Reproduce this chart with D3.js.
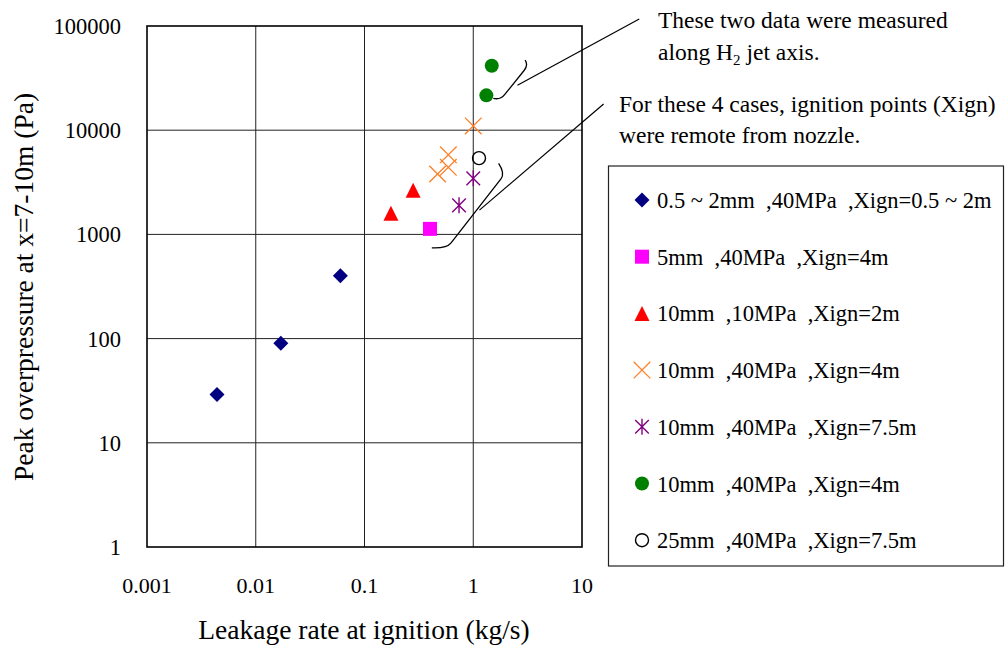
<!DOCTYPE html>
<html>
<head>
<meta charset="utf-8">
<script src="https://d3js.org/d3.v7.min.js"></script>
<style>
  body { margin: 0; background: #fff; }
  svg text { font-family: "Liberation Serif", "Times New Roman", serif; fill: #000; white-space: pre; }
</style>
</head>
<body>
<script>
// series labels (legend order)
var seriesNames = [
  "0.5 ~ 2mm  ,40MPa  ,Xign=0.5 ~ 2m",
  "5mm  ,40MPa  ,Xign=4m",
  "10mm  ,10MPa  ,Xign=2m",
  "10mm  ,40MPa  ,Xign=4m",
  "10mm  ,40MPa  ,Xign=7.5m",
  "10mm  ,40MPa  ,Xign=4m",
  "25mm  ,40MPa  ,Xign=7.5m"
];

// leakage rate (kg/s) / peak overpressure (Pa) per series
var diamondX = [0.0044, 0.017, 0.06];
var diamondY = [29, 90, 400];
var squareX = [0.40];
var squareY = [1130];
var triX = [0.175, 0.28];
var triY = [1600, 2650];
var crossX = [0.47, 0.59, 0.59, 1.0];
var crossY = [3800, 4400, 5800, 11000];
var starX = [0.74, 1.0];
var starY = [1900, 3450];
var greenX = [1.32, 1.48];
var greenY = [21600, 41500];
var openX = [1.13];
var openY = [5400];

var xTicks = [0.001, 0.01, 0.1, 1, 10];
var yTicks = [1, 10, 100, 1000, 10000, 100000];
var xTickLabels = ["0.001", "0.01", "0.1", "1", "10"];
var yTickLabels = ["1", "10", "100", "1000", "10000", "100000"];

var width = 1007, height = 649;
var plot = {left: 147, right: 582, top: 26, bottom: 547};

var svg = d3.select("body").append("svg")
  .attr("width", width)
  .attr("height", height);

var x = d3.scaleLog().domain([0.001, 10]).range([plot.left, plot.right]);
var y = d3.scaleLog().domain([1, 100000]).range([plot.bottom, plot.top]);

// grid
svg.append("g").selectAll("line.v")
  .data(xTicks.slice(1, -1))
  .enter().append("line")
    .attr("x1", function(d) { return x(d); })
    .attr("x2", function(d) { return x(d); })
    .attr("y1", plot.top).attr("y2", plot.bottom)
    .attr("stroke", "#222").attr("stroke-width", 1);

svg.append("g").selectAll("line.h")
  .data(yTicks.slice(1, -1))
  .enter().append("line")
    .attr("x1", plot.left).attr("x2", plot.right)
    .attr("y1", function(d) { return y(d); })
    .attr("y2", function(d) { return y(d); })
    .attr("stroke", "#222").attr("stroke-width", 1);

svg.append("rect")
  .attr("x", plot.left).attr("y", plot.top)
  .attr("width", plot.right - plot.left)
  .attr("height", plot.bottom - plot.top)
  .attr("fill", "none").attr("stroke", "#000").attr("stroke-width", 1.6);

// tick labels
svg.append("g").selectAll("text")
  .data(yTicks)
  .enter().append("text")
    .attr("x", 121)
    .attr("y", function(d) { return y(d) + 8; })
    .attr("text-anchor", "end")
    .style("font-size", "22.5px")
    .text(function(d, i) { return yTickLabels[i]; });

svg.append("g").selectAll("text")
  .data(xTicks)
  .enter().append("text")
    .attr("x", function(d) { return x(d); })
    .attr("y", 593)
    .attr("text-anchor", "middle")
    .style("font-size", "22px")
    .text(function(d, i) { return xTickLabels[i]; });

// axis titles
svg.append("text")
  .attr("x", 364).attr("y", 639)
  .attr("text-anchor", "middle")
  .style("font-size", "27.5px")
  .text("Leakage rate at ignition (kg/s)");

svg.append("text")
  .attr("transform", "translate(33,287) rotate(-90)")
  .attr("text-anchor", "middle")
  .style("font-size", "27.5px")
  .text("Peak overpressure at x=7-10m (Pa)");

// marker shapes, centered on their bounding box
function diamond(h) { return "M0," + (-h) + "L" + h + ",0L0," + h + "L" + (-h) + ",0Z"; }
function square(h) { return "M" + (-h) + "," + (-h) + "H" + h + "V" + h + "H" + (-h) + "Z"; }
function triangle(h) { return "M0," + (-h) + "L" + h + "," + h + "L" + (-h) + "," + h + "Z"; }
function cross(h) { return "M" + (-h) + "," + (-h) + "L" + h + "," + h + "M" + h + "," + (-h) + "L" + (-h) + "," + h; }
function star(h) { return cross(h * 0.85) + "M0," + (-h) + "V" + h; }

var seriesStyle = [
  {xs: diamondX, ys: diamondY, path: diamond(7.5), fill: "#000080", stroke: "none", sw: 0},
  {xs: squareX, ys: squareY, path: square(7), fill: "#ff00ff", stroke: "none", sw: 0},
  {xs: triX, ys: triY, path: triangle(7.5), fill: "#ff0000", stroke: "none", sw: 0},
  {xs: crossX, ys: crossY, path: cross(8.3), fill: "none", stroke: "#ff7f27", sw: 1.3},
  {xs: starX, ys: starY, path: star(8), fill: "none", stroke: "#800080", sw: 1.4},
  {xs: greenX, ys: greenY, circle: 7, fill: "#008000", stroke: "none", sw: 0},
  {xs: openX, ys: openY, circle: 6.5, fill: "none", stroke: "#000", sw: 1.4}
];

function drawMarker(g, s) {
  if (s.circle) {
    g.append("circle").attr("r", s.circle)
      .attr("fill", s.fill).attr("stroke", s.stroke).attr("stroke-width", s.sw);
  } else {
    g.append("path").attr("d", s.path)
      .attr("fill", s.fill).attr("stroke", s.stroke).attr("stroke-width", s.sw);
  }
}

var points = svg.append("g");
seriesStyle.forEach(function(s) {
  s.xs.forEach(function(v, i) {
    var g = points.append("g")
      .attr("transform", "translate(" + x(v) + "," + y(s.ys[i]) + ")");
    drawMarker(g, s);
  });
});

// brace + leader annotations (anchored in data units)
var braceTop = [[3.0, 47150], [3.22, 42220], [1.77, 19460], [1.53, 20220]];
var leaderTop = [[2.55, 27000], [33.6, 116700]];
var braceLow = [[1.71, 4800], [1.97, 3850], [0.571, 733], [0.416, 743]];
var leaderLow = [[1.14, 1710], [15.8, 17820]];

function bracePath(p) {
  var a = p.map(function(d) { return [x(d[0]), y(d[1])]; });
  var dx = a[2][0] - a[1][0], dy = a[2][1] - a[1][1];
  var len = Math.sqrt(dx * dx + dy * dy);
  var ux = dx / len, uy = dy / len;
  var s1 = [a[1][0] + ux * 7, a[1][1] + uy * 7];
  var s2 = [a[2][0] - ux * 7, a[2][1] - uy * 7];
  return "M" + a[0] + "Q" + a[1] + " " + s1 + "L" + s2 + "Q" + a[2] + " " + a[3];
}

svg.append("path").attr("d", bracePath(braceTop))
  .attr("fill", "none").attr("stroke", "#000").attr("stroke-width", 1.3);
svg.append("path").attr("d", bracePath(braceLow))
  .attr("fill", "none").attr("stroke", "#000").attr("stroke-width", 1.3);

[leaderTop, leaderLow].forEach(function(l) {
  svg.append("line")
    .attr("x1", x(l[0][0])).attr("y1", y(l[0][1]))
    .attr("x2", x(l[1][0])).attr("y2", y(l[1][1]))
    .attr("stroke", "#000").attr("stroke-width", 1.2);
});

svg.append("text").attr("x", 658).attr("y", 28).style("font-size", "23.5px")
  .text("These two data were measured");
var t2 = svg.append("text").attr("x", 658).attr("y", 60).style("font-size", "23.5px");
t2.append("tspan").text("along H");
t2.append("tspan").attr("dy", 5).style("font-size", "15px").text("2");
t2.append("tspan").attr("dy", -5).text(" jet axis.");

svg.append("text").attr("x", 619).attr("y", 112).style("font-size", "23.5px")
  .text("For these 4 cases, ignition points (Xign)");
svg.append("text").attr("x", 619).attr("y", 143).style("font-size", "23.5px")
  .text("were remote from nozzle.");

// legend
var legend = svg.append("g");
legend.append("rect")
  .attr("x", 608.5).attr("y", 166)
  .attr("width", 395).attr("height", 400)
  .attr("fill", "#fff").attr("stroke", "#222").attr("stroke-width", 1.2);

seriesNames.forEach(function(name, i) {
  var cy = 200 + i * 56.7;
  var g = legend.append("g").attr("transform", "translate(642," + cy + ")");
  drawMarker(g, seriesStyle[i]);
  legend.append("text")
    .attr("x", 657).attr("y", cy + 8)
    .style("font-size", "22.5px")
    .text(name);
});
</script>
</body>
</html>
